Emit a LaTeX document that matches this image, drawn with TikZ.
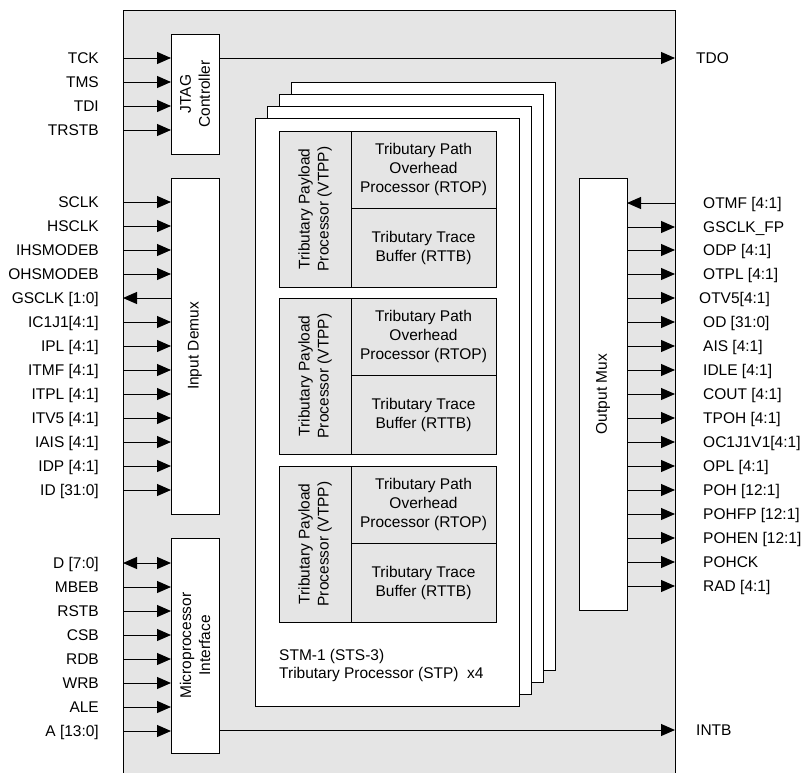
\documentclass[tikz,border=0pt]{standalone}
\usepackage{fontspec}
\setmainfont{Liberation Sans}
\usetikzlibrary{arrows.meta}
\definecolor{chipgray}{RGB}{229,229,229}
\begin{document}
\begin{tikzpicture}[x=1pt,y=-1pt,
  font=\fontsize{15.5}{19}\selectfont,
  blk/.style={draw=black, fill=white, line width=1pt, anchor=north west, inner sep=0pt, outer sep=0pt},
  gblk/.style={draw=black, fill=chipgray, line width=1pt, anchor=north west, inner sep=0pt, outer sep=0pt},
  toR/.style={line width=1pt, -{Triangle[length=14pt,width=12pt]}},
  toL/.style={line width=1pt, {Triangle[length=14pt,width=12pt]}-},
  toB/.style={line width=1pt, {Triangle[length=14pt,width=12pt]}-{Triangle[length=14pt,width=12pt]}},
  lbl/.style={anchor=base east, inner sep=0pt},
  rlbl/.style={anchor=base west, inner sep=0pt},
  txt/.style={align=center, inner sep=0pt},
]
\useasboundingbox (0,0) rectangle (812,772);
\clip (0,0) rectangle (812,772);
% chip outline (open at the bottom)
\fill[chipgray] (123,10) rectangle (675,780);
\draw[line width=1pt] (123,780) -- (123,10) -- (675,10) -- (675,780);

% left blocks
\node[blk, minimum width=48, minimum height=120] (jtag) at (171,34) {};
\node[txt, rotate=90] (jtagtxt) at (jtag.center) {JTAG\\Controller};
\node[blk, minimum width=48, minimum height=336] (demux) at (171,178) {};
\node[txt, rotate=90] (demuxtxt) at (demux.center) {Input Demux};
\node[blk, minimum width=48, minimum height=215] (micro) at (171,538) {};
\node[txt, rotate=90] (microtxt) at (micro.center) {Microprocessor\\Interface};
% output mux
\node[blk, minimum width=48, minimum height=432] (omux) at (579,178) {};
\node[txt, rotate=90] (omuxtxt) at (omux.center) {Output Mux};

% STP stack
\node[blk, minimum width=264, minimum height=588] (stp3) at (291,82) {};
\node[blk, minimum width=264, minimum height=588] (stp2) at (279,94) {};
\node[blk, minimum width=264, minimum height=588] (stp1) at (267,106) {};
\node[blk, minimum width=264, minimum height=588] (stp0) at (255,118) {};

\foreach \tp [count=\b] in {131,298,466}{
  \node[gblk, minimum width=72, minimum height=156] (vtpp\b) at (279,\tp) {};
  \node[gblk, minimum width=145, minimum height=77] (rtop\b) at (351,\tp) {};
  \node[gblk, minimum width=145, minimum height=79] (rttb\b) at (351,\tp+77) {};
  \node[txt, rotate=90] (vtpptxt\b) at (vtpp\b.center) {Tributary Payload\\Processor (VTPP)};
  \node[txt] (rtoptxt\b) at (rtop\b.center) {Tributary Path\\Overhead\\Processor (RTOP)};
  \node[txt] (rttbtxt\b) at (rttb\b.center) {Tributary Trace\\Buffer (RTTB)};
}
\node[rlbl] (stm1) at (279,660.5) {STM-1 (STS-3)};
\node[rlbl] (stm2) at (279,678.5) {Tributary Processor (STP)\ \ x4};

% JTAG signals
\foreach \t/\yy/\st [count=\i] in {TCK/58/toR, TMS/82/toR, TDI/106/toR, TRSTB/130/toR}{
  \node[lbl] (jl\i) at (99,\yy+5.5) {\t};
  \coordinate (jp\i) at (123,\yy);
  \draw[\st] (jp\i) -- (jp\i -| jtag.west);
}
% demux signals
\foreach \t/\yy/\st [count=\i] in {SCLK/202/toR, HSCLK/226/toR, IHSMODEB/250/toR, OHSMODEB/274/toR,
  GSCLK [1:0]/298/toL, IC1J1[4:1]/322/toR, IPL [4:1]/346/toR, ITMF [4:1]/370/toR, ITPL [4:1]/394/toR,
  ITV5 [4:1]/418/toR, IAIS [4:1]/442/toR, IDP [4:1]/466/toR, ID [31:0]/490/toR}{
  \node[lbl] (dl\i) at (99,\yy+5.5) {\t};
  \coordinate (dp\i) at (123,\yy);
  \draw[\st] (dp\i) -- (dp\i -| demux.west);
}
% microprocessor signals
\foreach \t/\yy/\st [count=\i] in {D [7:0]/563/toB, MBEB/587/toR, RSTB/611/toR, CSB/635/toR,
  RDB/659/toR, WRB/683/toR, ALE/707/toR, A [13:0]/731/toR}{
  \node[lbl] (ml\i) at (99,\yy+5.5) {\t};
  \coordinate (mp\i) at (123,\yy);
  \draw[\st] (mp\i) -- (mp\i -| micro.west);
}
% output mux signals
\foreach \t/\yy/\st/\xx [count=\i] in {OTMF [4:1]/203/toL/703, GSCLK\_FP/227/toR/703, ODP [4:1]/250/toR/703,
  OTPL [4:1]/274/toR/703, OTV5[4:1]/298/toR/699, OD [31:0]/322/toR/703, AIS [4:1]/346/toR/703,
  IDLE [4:1]/370/toR/703, COUT [4:1]/394/toR/703, TPOH [4:1]/418/toR/703, OC1J1V1[4:1]/442/toR/703,
  OPL [4:1]/466/toR/703, POH [12:1]/490/toR/703, POHFP [12:1]/514/toR/703, POHEN [12:1]/538/toR/703,
  POHCK/562/toR/703, RAD [4:1]/586/toR/703}{
  \coordinate (rp\i) at (675,\yy);
  \node[rlbl] (rl\i) at (\xx,\yy+5.5) {\t};
  \draw[\st] (rp\i -| omux.east) -- (rp\i);
}
% TDO and INTB
\coordinate (tdo) at (675,58);
\node[rlbl] (tdolbl) at (696,63.5) {TDO};
\draw[toR] (jtag.east |- tdo) -- (tdo);
\coordinate (intb) at (675,730);
\node[rlbl] (intblbl) at (696,735.5) {INTB};
\draw[toR] (micro.east |- intb) -- (intb);
\end{tikzpicture}
\end{document}
